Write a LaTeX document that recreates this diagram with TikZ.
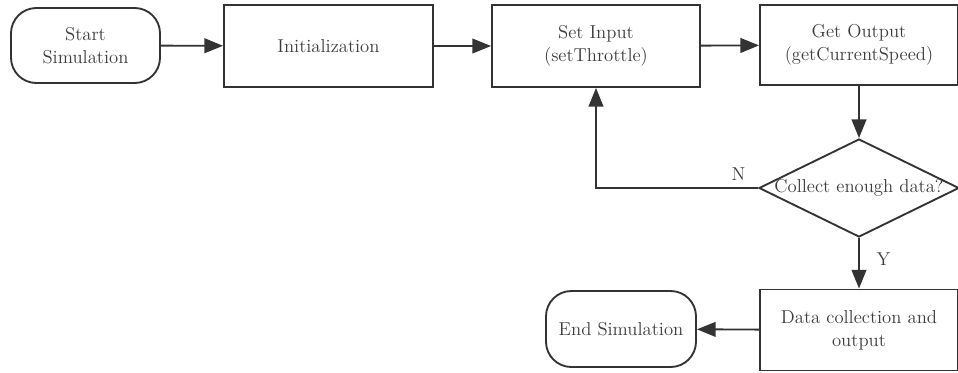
\documentclass[tikz,border=0pt]{standalone}
\usepackage{tikz}
\usetikzlibrary{arrows.meta,calc,positioning,shapes.geometric}
\definecolor{linegray}{RGB}{51,51,51}
\definecolor{textgray}{RGB}{60,60,60}
\tikzset{
        startstop/.style = {draw=linegray, line width=1.4pt, rectangle, rounded corners=19pt,
            align=center, text=textgray},
        process/.style = {draw=linegray, line width=1.4pt, rectangle,
            align=center, text=textgray},
        decision/.style = {draw=linegray, line width=1.4pt, diamond, inner sep=0pt},
        arrow/.style = {draw=linegray, line width=1.4pt, -{Triangle[length=14pt,width=11pt]}},
        lbl/.style = {text=textgray},
    }

\begin{document}
\begin{tikzpicture}[x=0.75pt,y=0.75pt,yscale=-1,xscale=1,
    font=\fontsize{14}{17.5}\selectfont]
\useasboundingbox (0,0) rectangle (958,372);

% Nodes
\node [startstop, minimum width=111.75pt, minimum height=56.25pt] (start) at (85.5,45.5) {Start\\Simulation};
\node [process, minimum width=156.75pt, minimum height=61.5pt] (init) at (328.5,46) {Initialization};
\node [process, minimum width=156pt, minimum height=61.5pt] (setin) at (596,46) {Set Input\\(setThrottle)};
\node [process, minimum width=148.5pt, minimum height=60pt] (getout) at (859,45) {Get Output\\(getCurrentSpeed)};
\node [decision, minimum width=150pt, minimum height=73.5pt,
       label={[lbl]center:Collect enough data?}] (check) at (859,188) {};
\node [process, minimum width=148.5pt, minimum height=60.75pt] (dataout) at (859,330) {Data collection and\\output};
\node [startstop, minimum width=112.5pt, minimum height=57pt] (endsim) at (621,329) {End Simulation};

% Connectors
\draw [arrow] (start) -- (init);
\draw [arrow] (init) -- (setin);
\draw [arrow] (setin) -- (getout);
\draw [arrow] (getout) -- (check);
\draw [arrow] (check.west) -| (setin.south);
\draw [arrow] (check.south) -- (dataout.north);
\draw [arrow] (dataout) -- (endsim);

% Branch labels
\node [lbl, above left=2pt and 6pt of check.west] (nlbl) {N};
\node [lbl, anchor=west] (ylbl) at ($(check.south)!0.42!(dataout.north)+(13,0)$) {Y};

\end{tikzpicture}
\end{document}
